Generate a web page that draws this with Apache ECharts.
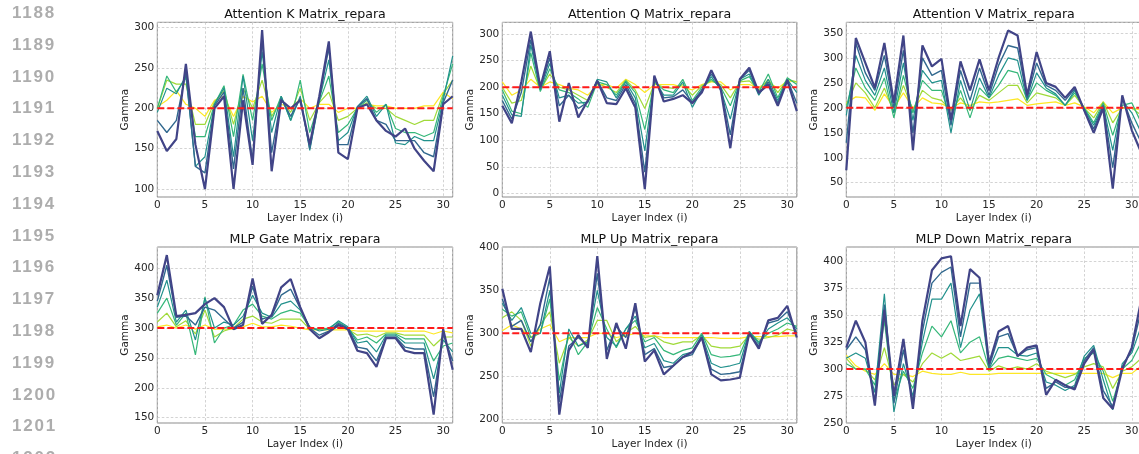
<!DOCTYPE html>
<html><head><meta charset="utf-8">
<script src="https://cdn.jsdelivr.net/npm/echarts@6/dist/echarts.min.js"></script>
<style>
html,body{margin:0;padding:0;background:#fff;}
#wrap{position:relative;width:1139px;height:454px;overflow:hidden;background:#fff}
#chart{position:absolute;left:0;top:0;width:1139px;height:454px}
.ln{position:absolute;left:12px;height:20px;line-height:20px;font-family:'Liberation Sans',Arial,sans-serif;font-weight:bold;font-size:17px;letter-spacing:1.8px;color:#adadad}
</style>
</head><body><div id="wrap"><div id="chart"></div></div>
<script>
// ---------------- data ----------------
const lineNumbers = [1188,1189,1190,1191,1192,1193,1194,1195,1196,1197,1198,1199,1200,1201,1202];
const layers = [0,1,2,3,4,5,6,7,8,9,10,11,12,13,14,15,16,17,18,19,20,21,22,23,24,25,26,27,28,29,30,31];
const titles = ['Attention K Matrix_repara','Attention Q Matrix_repara','Attention V Matrix_repara','MLP Gate Matrix_repara','MLP Up Matrix_repara','MLP Down Matrix_repara'];
const baselines = [200,200,200,300,300,300];
const yTickStep = [50,50,50,50,50,25];
const yLimits = [[90.1,306.6],[-7,322.5],[21.4,371.4],[141.1,435.6],[195.2,400.7],[249.8,413.6]];

// Attention K
const kDark   = [172,147,162,255,155,100,200,215,100,210,130,297,122,210,200,210,155,215,283,145,137,200,205,185,172,165,175,150,135,122,205,215];
const kBlue   = [185,170,185,245,128,120,203,220,125,225,135,285,145,212,190,212,150,212,275,155,155,202,212,185,180,160,160,160,145,140,207,235];
const kTeal   = [195,225,218,240,128,140,205,225,140,240,160,270,170,215,185,215,148,210,260,160,170,202,215,190,205,157,155,165,160,160,210,265];
const kGreen  = [200,240,220,238,165,165,205,228,165,242,185,255,185,215,185,235,170,208,240,170,180,200,210,195,205,175,170,170,165,170,215,255];
const kLight  = [200,235,230,230,180,180,208,222,180,225,200,235,190,210,195,225,185,207,220,185,190,200,207,200,200,190,185,180,185,185,218,235];
const kYellow = [202,210,222,205,200,190,210,215,190,215,208,215,195,205,200,212,200,205,205,195,200,200,205,203,203,200,200,200,203,203,220,212];

// Attention Q
const qDark   = [165,132,210,305,200,268,135,208,143,175,212,170,168,198,162,8,222,173,178,185,170,190,232,195,85,215,237,190,205,165,213,155];
const qBlue   = [175,140,190,290,198,255,165,185,160,172,213,180,175,205,170,40,218,180,182,195,172,195,225,200,110,215,232,187,210,170,215,170];
const qTeal   = [185,148,145,280,195,245,180,185,170,172,215,210,180,210,180,80,215,185,185,210,162,195,220,195,140,215,225,185,215,175,215,190];
const qGreen  = [195,155,150,265,192,235,195,190,178,162,210,205,185,212,190,120,210,195,190,215,175,200,215,200,165,212,220,190,225,180,218,205];
const qLight  = [200,170,175,240,195,225,200,195,185,175,207,200,190,214,195,160,207,200,198,205,185,203,212,205,180,210,212,195,215,190,215,210];
const qYellow = [210,185,195,215,200,210,205,198,195,185,205,205,198,215,205,190,205,205,205,200,195,205,210,210,195,205,205,200,210,198,212,210];

// Attention V
const vDark   = [75,340,290,240,330,210,345,115,325,283,298,175,293,235,297,235,300,355,345,225,312,250,242,220,242,195,150,200,38,225,155,110];
const vBlue   = [130,330,270,235,305,200,315,150,300,265,275,165,275,215,280,225,285,325,320,220,290,245,235,215,238,195,158,205,80,220,170,130];
const vTeal   = [185,305,255,225,280,190,290,175,275,250,255,150,255,195,260,220,265,300,295,215,270,240,228,205,235,198,165,205,115,215,190,150];
const vGreen  = [200,280,240,215,260,180,265,190,255,235,235,175,235,180,240,220,245,275,270,215,250,235,225,205,230,200,170,210,145,205,210,170];
const vLight  = [205,250,230,200,240,190,245,195,235,220,215,195,220,195,225,215,230,245,245,210,230,225,220,205,225,200,180,212,170,200,200,185];
const vYellow = [210,222,220,195,228,200,230,200,220,210,208,200,210,205,212,210,212,215,218,205,208,210,212,205,210,202,190,212,190,200,200,195];

// MLP Gate
const gDark   = [355,422,320,322,325,340,350,335,298,305,383,307,322,368,382,335,298,283,293,305,298,262,258,235,283,283,262,258,258,155,298,230];
const gBlue   = [345,405,318,320,305,335,330,315,300,310,370,315,320,355,365,333,300,288,295,308,300,268,265,245,285,285,268,265,265,185,290,245];
const gTeal   = [335,380,310,330,280,350,300,310,305,320,355,325,318,340,345,330,302,295,298,312,302,275,278,260,288,288,275,275,275,215,280,260];
const gGreen  = [325,350,305,325,255,352,275,300,305,330,340,320,315,325,330,325,300,298,300,310,300,280,285,275,290,290,282,282,282,245,270,275];
const gLight  = [310,325,302,312,290,330,285,295,300,315,320,310,308,315,315,315,298,298,298,302,298,288,290,285,292,292,288,288,288,270,285,285];
const gYellow = [302,305,300,305,298,305,298,298,298,302,308,302,302,305,303,300,297,297,297,297,297,295,295,295,295,295,295,295,295,290,295,292];

// MLP Up
const uDark   = [352,305,305,278,335,378,205,280,298,283,390,270,312,282,335,267,280,252,262,272,278,295,252,245,246,248,300,282,315,318,332,295];
const uBlue   = [340,308,315,290,310,365,220,285,295,285,370,280,308,295,330,275,282,260,262,272,275,295,258,252,253,255,300,285,312,315,325,300];
const uTeal   = [335,315,330,300,300,350,230,305,285,290,350,295,285,305,320,283,288,268,265,275,278,298,265,260,262,265,302,288,305,312,318,305];
const uGreen  = [328,320,325,295,300,340,245,300,275,290,330,305,283,305,315,290,295,280,275,280,283,300,275,272,273,275,302,290,300,305,312,308];
const uLight  = [318,325,315,285,310,325,265,295,285,292,315,315,290,300,308,295,297,290,287,290,290,298,285,283,283,285,298,293,295,298,305,302];
const uYellow = [303,310,305,295,305,310,290,295,295,295,300,300,295,297,300,297,297,295,295,295,295,295,295,294,294,294,296,296,296,296,297,297];

// MLP Down
const dDark   = [320,345,325,266,355,275,328,263,345,392,403,405,340,393,385,305,335,340,312,320,322,276,290,285,281,305,318,273,263,300,320,365];
const dBlue   = [318,330,318,270,360,268,318,270,335,380,390,395,330,380,380,302,330,333,312,318,320,282,288,283,283,308,320,280,265,302,318,355];
const dTeal   = [310,315,310,278,370,260,305,275,325,365,365,380,320,355,370,300,320,320,313,312,315,288,285,280,285,312,322,290,262,305,315,340];
const dGreen  = [305,300,300,285,345,270,298,282,315,340,330,345,315,325,330,300,310,312,310,308,310,295,290,285,290,310,315,298,270,300,308,325];
const dLight  = [310,300,300,290,320,285,295,288,305,315,310,315,308,310,312,298,303,300,302,300,305,298,295,292,295,302,305,302,282,298,302,310];
const dYellow = [313,303,298,295,305,295,295,293,298,296,295,295,297,295,295,295,296,296,296,296,296,296,296,296,296,296,296,296,292,296,296,303];

const panels = [
  [kYellow,kLight,kGreen,kTeal,kBlue,kDark],
  [qYellow,qLight,qGreen,qTeal,qBlue,qDark],
  [vYellow,vLight,vGreen,vTeal,vBlue,vDark],
  [gYellow,gLight,gGreen,gTeal,gBlue,gDark],
  [uYellow,uLight,uGreen,uTeal,uBlue,uDark],
  [dYellow,dLight,dGreen,dTeal,dBlue,dDark]
];

// ---------------- styles / layout ----------------
const levelColors = ['#fde725','#a0da39','#35b779','#21918c','#31688e','#414487'];
const levelWidths = [1.2,1.2,1.2,1.2,1.4,2.2];
const gridBoxes = [
  {left:157.3, top:22.3, width:295.4, height:174.7},
  {left:502.3, top:22.3, width:294.5, height:174.7},
  {left:846.3, top:22.3, width:295.0, height:174.7},
  {left:157.3, top:247,  width:295.4, height:176},
  {left:502.3, top:247,  width:294.5, height:176},
  {left:846.3, top:247,  width:295.0, height:176}
];
const FONT = "'DejaVu Sans', sans-serif";
const TXT = '#262626';

// line numbers
const wrap = document.getElementById('wrap');
lineNumbers.forEach((n,k)=>{
  const d = document.createElement('div');
  d.className = 'ln';
  d.style.top = (13 + 31.8*k - 10) + 'px';
  d.textContent = String(n);
  wrap.appendChild(d);
});

const grids = [], xAxes = [], yAxes = [], series = [], graphics = [];
gridBoxes.forEach((g,p)=>{
  grids.push({left:g.left, top:g.top, width:g.width, height:g.height, show:true,
    borderColor:'#8c8c8c', borderWidth:1, backgroundColor:'rgba(0,0,0,0)',
    containLabel:false, outerBoundsMode:'none'});
  xAxes.push({type:'value', gridIndex:p, min:0, max:31, interval:5,
    axisLine:{show:false}, axisTick:{show:false},
    axisLabel:{margin:3, fontSize:10.5, color:TXT, fontFamily:FONT, showMaxLabel:false},
    splitLine:{show:true, lineStyle:{type:[2.5,2], color:'#c8c8c8', width:0.8}},
    name:'Layer Index (i)', nameLocation:'middle', nameGap:15.5,
    nameTextStyle:{fontSize:10.5, color:TXT, fontFamily:FONT}});
  yAxes.push({type:'value', gridIndex:p, min:yLimits[p][0], max:yLimits[p][1],
    minInterval:yTickStep[p], maxInterval:yTickStep[p], splitNumber:6,
    axisLine:{show:false}, axisTick:{show:false},
    axisLabel:{margin:3, fontSize:10.5, color:TXT, fontFamily:FONT, showMinLabel:false, showMaxLabel:false},
    splitLine:{show:true, lineStyle:{type:[2.5,2], color:'#c8c8c8', width:0.8}},
    name:'Gamma', nameLocation:'middle', nameGap:23.5,
    nameTextStyle:{fontSize:10.5, color:TXT, fontFamily:FONT}});
  panels[p].forEach((arr,l)=>{
    series.push({type:'line', xAxisIndex:p, yAxisIndex:p, showSymbol:false, symbol:'none',
      data: layers.map((x,i)=>[x, arr[i]]),
      lineStyle:{color:levelColors[l], width:levelWidths[l]},
      itemStyle:{color:levelColors[l]}, z:2+l*0.01, silent:true, animation:false});
  });
  series.push({type:'line', xAxisIndex:p, yAxisIndex:p, showSymbol:false, symbol:'none',
    data:[[layers[0], baselines[p]],[31, baselines[p]]],
    lineStyle:{color:'#ff1a1a', width:2, type:[7,3]}, z:5, silent:true, animation:false});
  graphics.push({type:'text', x:g.left + g.width/2, y:(p<3?14.7:239.7),
    style:{text:titles[p], font:"12.6px 'DejaVu Sans', sans-serif", fill:'#111', textAlign:'center', textVerticalAlign:'middle'}});
});

const chart = echarts.init(document.getElementById('chart'), null, {renderer:'canvas'});
chart.setOption({
  backgroundColor:'#ffffff',
  animation:false,
  grid:grids, xAxis:xAxes, yAxis:yAxes, series:series, graphic:graphics
});
</script>
</body></html>
